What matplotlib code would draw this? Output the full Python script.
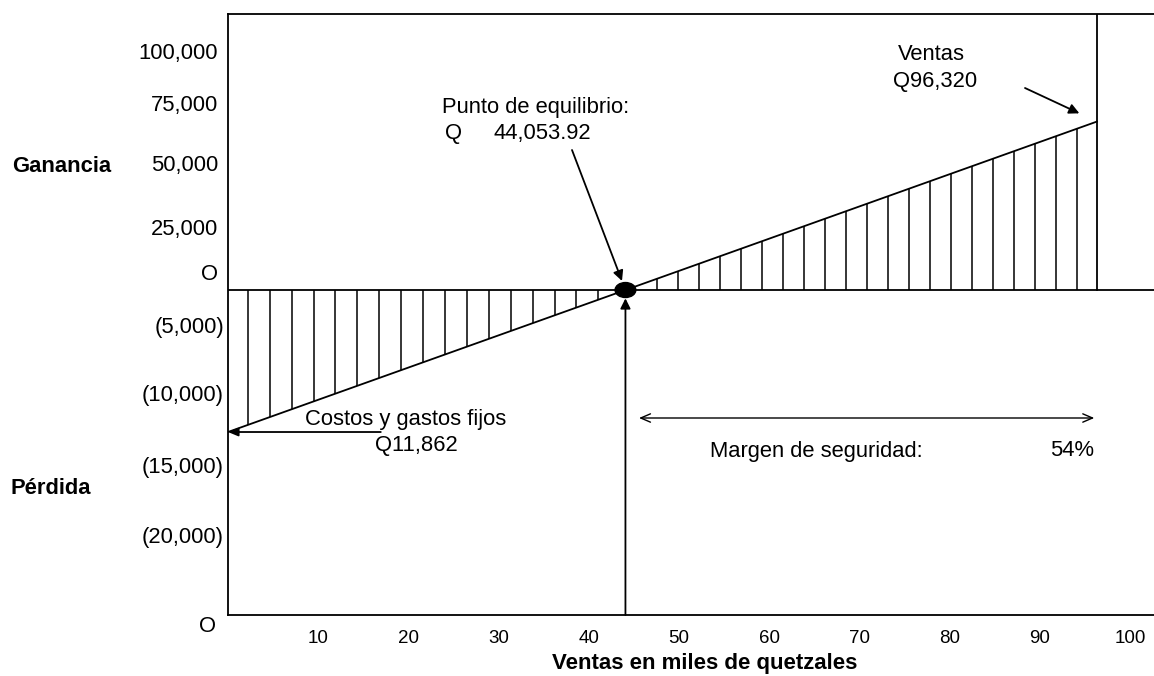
import numpy as np
import matplotlib
matplotlib.use("Agg")
import matplotlib.pyplot as plt
from matplotlib.patches import Ellipse

plt.rcParams['font.family'] = ['Liberation Sans', 'DejaVu Sans']

# datos del punto de equilibrio (quetzales)
costos_fijos = 11862
punto_equilibrio = 44053.92
ventas = 96320
margen_seguridad = 54  # %

# recta de utilidad / perdida
linea_ventas = [0, punto_equilibrio, ventas]
linea_utilidad = [-costos_fijos, 0, 14075]

# etiquetas de los ejes (tal como vienen en el grafico)
x_ticks = [10000, 20000, 30000, 40000, 50000, 60000, 70000, 80000, 90000, 100000]
x_labels = ['10', '20', '30', '40', '50', '60', '70', '80', '90', '100']
y_labels = ['100,000', '75,000', '50,000', '25,000', 'O',
            '(5,000)', '(10,000)', '(15,000)', '(20,000)']

W, H = 1154, 676
FS = 15.8


def fxy(px, py):
    # pixel of the picture -> figure fraction
    return (px / W, 1 - py / H)


fig = plt.figure(figsize=(W / 100, H / 100), dpi=100)
ax = fig.add_axes([228 / W, (H - 615) / H, (W - 228) / W, (615 - 14) / H])
ax.set_xlim(0, 102640)
ax.set_ylim(-27150, 23060)

for s in ['left', 'top', 'bottom']:
    ax.spines[s].set_linewidth(1.3)
ax.spines['right'].set_visible(False)

ax.set_yticks([])
ax.set_xticks(x_ticks)
ax.set_xticklabels(x_labels, fontsize=13.5)
ax.tick_params(axis='x', length=0, pad=11)

lw = 1.3
# linea de cero
ax.axhline(0, color='black', lw=lw)
# recta de utilidad
ax.plot(linea_ventas, linea_utilidad, color='black', lw=lw)
# linea de ventas
ax.plot([ventas, ventas], [0, ax.get_ylim()[1]], color='black', lw=lw)

# rayado vertical de perdida y ganancia
rayas_izq = np.linspace(2200, punto_equilibrio - 3000, 17)
rayas_der = np.linspace(punto_equilibrio + 3500, ventas - 2200, 21)
for xs in (rayas_izq, rayas_der):
    ax.vlines(xs, 0, np.interp(xs, linea_ventas, linea_utilidad), color='black', lw=1.1)

# punto de equilibrio
ax.add_patch(Ellipse((punto_equilibrio, 0), 2300, 1250, color='black', zorder=5))

# flecha vertical desde el eje hasta el punto de equilibrio
ax.annotate('', xy=(punto_equilibrio, 0), xytext=(punto_equilibrio, ax.get_ylim()[0]),
            arrowprops=dict(arrowstyle='-|>,head_length=0.6,head_width=0.3',
                            color='black', lw=lw, shrinkA=0, shrinkB=6))

# anotacion punto de equilibrio
fig.text(*fxy(442, 107), 'Punto de equilibrio:', fontsize=FS, va='center')
fig.text(*fxy(445, 133), 'Q', fontsize=FS, va='center')
fig.text(*fxy(493, 133), f'{punto_equilibrio:,.2f}', fontsize=FS, va='center')
ax.annotate('', xy=(punto_equilibrio, 0), xycoords='data',
            xytext=fxy(572, 150), textcoords='figure fraction',
            arrowprops=dict(arrowstyle='-|>,head_length=0.6,head_width=0.3',
                            color='black', lw=lw, shrinkA=0, shrinkB=7))

# anotacion ventas
fig.text(*fxy(898, 54), 'Ventas', fontsize=FS, va='center')
fig.text(*fxy(893, 82), f'Q{ventas:,}', fontsize=FS, va='center')
ax.annotate('', xy=(ventas, linea_utilidad[-1]), xycoords='data',
            xytext=fxy(1025, 88), textcoords='figure fraction',
            arrowprops=dict(arrowstyle='-|>,head_length=0.6,head_width=0.3',
                            color='black', lw=lw, shrinkA=0, shrinkB=14))

# costos fijos
ax.annotate('', xy=(0, -costos_fijos), xycoords='data',
            xytext=(0.165, -costos_fijos), textcoords=('axes fraction', 'data'),
            arrowprops=dict(arrowstyle='-|>,head_length=0.6,head_width=0.25',
                            color='black', lw=lw, shrinkA=0, shrinkB=0))
fig.text(*fxy(406, 420), 'Costos y gastos fijos', fontsize=FS, ha='center', va='center')
fig.text(*fxy(416, 445), f'Q{costos_fijos:,}', fontsize=FS, ha='center', va='center')

# margen de seguridad
ax.annotate('', xy=(ventas - 300, H - 418), xycoords=('data', 'figure pixels'),
            xytext=(punto_equilibrio + 1500, H - 418), textcoords=('data', 'figure pixels'),
            arrowprops=dict(arrowstyle='<->,head_length=0.7,head_width=0.3',
                            color='black', lw=1.0, shrinkA=0, shrinkB=0))
fig.text(*fxy(710, 451), 'Margen de seguridad:', fontsize=FS, va='center')
fig.text(*fxy(1094, 451), f'{margen_seguridad}%', fontsize=FS, ha='right', va='center')

# etiquetas del eje vertical
y_pos = [53, 106, 166, 229, 275, 327, 396, 467, 538]
for lab, py in zip(y_labels, y_pos):
    xr = 224 if lab.startswith('(') else 218
    fig.text(*fxy(xr, py), lab, fontsize=FS, ha='right', va='center')
fig.text(*fxy(208, 627), 'O', fontsize=FS, ha='center', va='center')

fig.text(*fxy(12, 166), 'Ganancia', fontsize=FS, fontweight='bold', va='center')
fig.text(*fxy(10, 488), 'Pérdida', fontsize=FS, fontweight='bold', va='center')
fig.text(*fxy(705, 664), 'Ventas en miles de quetzales', fontsize=16,
         fontweight='bold', ha='center', va='center')

fig.savefig('out.png', dpi=100)
